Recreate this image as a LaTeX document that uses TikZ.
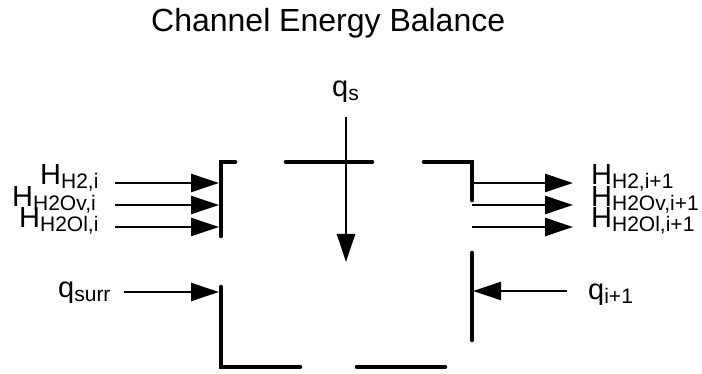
\documentclass[tikz,border=0pt]{standalone}
\usepackage{fontspec}
\setmainfont{Liberation Sans}
\usetikzlibrary{arrows.meta}
\newcommand\lsub[1]{\raisebox{-4pt}{\fontsize{21}{22}\selectfont #1}}
\begin{document}
\begin{tikzpicture}[x=1pt,y=-1pt,
  wall/.style={line width=4.6pt,line cap=round,line join=miter},
  flow/.style={line width=2.5pt,-{Triangle[length=28pt,width=18pt]}},
  lbl/.style={inner sep=0pt,anchor=base west,font=\fontsize{29}{30}\selectfont},
  ttl/.style={inner sep=0pt,anchor=base west,font=\fontsize{32}{34}\selectfont}]
\useasboundingbox (0,0) rectangle (702,374);
% title
\node[ttl] (title) at (151,32) {Channel Energy Balance};
% walls
\draw[wall] (235,162) -- (221,162) -- (221,236);
\draw[wall] (221,287) -- (221,367) -- (300,367);
\draw[wall] (357,367) -- (445,367);
\draw[wall] (286,162) -- (372,162);
\draw[wall] (424,162) -- (472,162) -- (472,200);
\draw[wall] (472,253) -- (472,340);
% coordinates
\coordinate (qsA) at (346,117); \coordinate (qsB) at (346,262);
\coordinate (l1A) at (115,183); \coordinate (l1B) at (219,183);
\coordinate (l2A) at (115,205); \coordinate (l2B) at (219,205);
\coordinate (l3A) at (115,227); \coordinate (l3B) at (219,227);
\coordinate (lsA) at (124,292); \coordinate (lsB) at (219,292);
\coordinate (r1A) at (472,183); \coordinate (r1B) at (573,183);
\coordinate (r2A) at (472,205); \coordinate (r2B) at (573,205);
\coordinate (r3A) at (472,227); \coordinate (r3B) at (573,227);
\coordinate (rqA) at (567,291); \coordinate (rqB) at (473,291);
% flows
\draw[flow] (qsA) -- (qsB);
\draw[flow] (l1A) -- (l1B);
\draw[flow] (l2A) -- (l2B);
\draw[flow] (l3A) -- (l3B);
\draw[flow] (lsA) -- (lsB);
\draw[flow] (r1A) -- (r1B);
\draw[flow] (r2A) -- (r2B);
\draw[flow] (r3A) -- (r3B);
\draw[flow] (rqA) -- (rqB);
% labels
\node[lbl] (qs) at (332,97) {q\lsub{s}};
\node[lbl] (hl1) at (40,185) {H\lsub{H2,i}};
\node[lbl] (hl2) at (12,207) {H\lsub{H2Ov,i}};
\node[lbl] (hl3) at (19,228) {H\lsub{H2Ol,i}};
\node[lbl] (qsurr) at (58,298) {q\lsub{surr}};
\node[lbl] (hr1) at (591,185) {H\lsub{H2,i+1}};
\node[lbl] (hr2) at (591,207) {H\lsub{H2Ov,i+1}};
\node[lbl] (hr3) at (591,228) {H\lsub{H2Ol,i+1}};
\node[lbl] (qi1) at (588,300) {q\lsub{i+1}};
\end{tikzpicture}
\end{document}
